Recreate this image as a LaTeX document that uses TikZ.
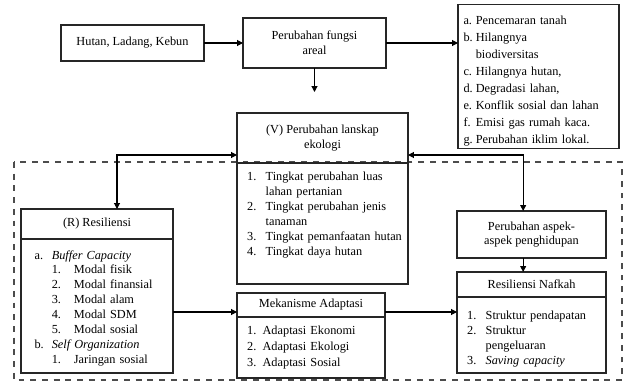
\documentclass[tikz,border=0pt]{standalone}
\usepackage{fontspec}
\setmainfont{Liberation Serif}
\usetikzlibrary{positioning,arrows.meta}
\tikzset{box/.style={draw=black!85, line width=0.9pt, align=center, inner sep=2pt, outer sep=0pt,
   font=\fontsize{10.5}{12.7}\selectfont},
 txt/.style={align=left, inner sep=0pt, anchor=north west, font=\fontsize{10.5}{12.7}\selectfont},
 arr/.style={-{Triangle[length=5pt,width=5pt]}, line width=0.9pt},
 arrboth/.style={{Triangle[length=5pt,width=5pt]}-{Triangle[length=5pt,width=5pt]}, line width=0.9pt},
 frame/.style={draw=black!70, line width=1.1pt, dash pattern=on 5pt off 5pt},
 }
\newcommand{\itm}[3][1.4em]{\par\noindent\hangindent=#1\hangafter=1\makebox[#1][l]{#2}#3}
\newcommand{\sitm}[2]{\par\noindent\hangindent=3.2em\hangafter=1\hspace*{1.4em}\makebox[1.8em][l]{#1}#2}

\begin{document}
\begin{tikzpicture}
        \useasboundingbox (0,0) rectangle (18.72,-11.46);
        % frame round the lower part
        \draw[frame] (0.42,-4.86) rectangle (18.66,-11.4);

        % top row
        \node[box, minimum width=4.29cm, minimum height=1.08cm] (hutan) at (3.975,-1.29) {Hutan, Ladang, Kebun};
        \node[box, minimum width=4.29cm, minimum height=1.5cm] (ubah) at (9.435,-1.29) {Perubahan fungsi\\areal};
        \node[box, minimum width=4.83cm, minimum height=4.23cm, text width=4.5cm, align=left,
              font=\fontsize{10.5}{14.5}\selectfont] (dampak) at (16.155,-2.295) {%
          \itm[1em]{a.}{Pencemaran tanah}
          \itm[1em]{b.}{Hilangnya\newline biodiversitas}
          \itm[1em]{c.}{Hilangnya hutan,}
          \itm[1em]{d.}{Degradasi lahan,}
          \itm[1em]{e.}{Konflik sosial dan lahan}
          \itm[1em]{f.}{Emisi gas rumah kaca.}
          \itm[1em]{g.}{Perubahan iklim lokal.}};
        \coordinate (ubahend) at (9.435,-2.76);

        % (V) box
        \node[box, minimum width=5.13cm, minimum height=1.5cm] (vhead) at (9.675,-4.14) {(V) Perubahan lanskap\\ekologi};
        \node[box, minimum width=5.13cm, minimum height=3.63cm, below=0pt of vhead] (vbody) {};
        \node[txt, text width=4.8cm] (vlist) at ([xshift=0.3cm,yshift=-0.08cm]vbody.north west) {%
          \itm[1.5em]{1.}{Tingkat perubahan luas\newline lahan pertanian}
          \itm[1.5em]{2.}{Tingkat perubahan jenis\newline tanaman}
          \itm[1.5em]{3.}{Tingkat pemanfaatan hutan}
          \itm[1.5em]{4.}{Tingkat daya hutan}};

        % (R) box
        \node[box, minimum width=4.56cm, minimum height=0.9cm] (rhead) at (2.91,-6.72) {(R) Resiliensi};
        \node[box, minimum width=4.56cm, minimum height=4.02cm, below=0pt of rhead] (rbody) {};
        \node[txt, text width=4.2cm] (rlist) at ([xshift=0.4cm,yshift=-0.15cm]rbody.north west) {%
          \itm{a.}{\textit{Buffer Capacity}}
          \sitm{1.}{Modal fisik}
          \sitm{2.}{Modal finansial}
          \sitm{3.}{Modal alam}
          \sitm{4.}{Modal SDM}
          \sitm{5.}{Modal sosial}
          \itm{b.}{\textit{Self Organization}}
          \sitm{1.}{Jaringan sosial}};

        % mekanisme adaptasi
        \node[box, minimum width=4.44cm, minimum height=0.72cm] (mhead) at (9.33,-9.15) {Mekanisme Adaptasi};
        \node[box, minimum width=4.44cm, minimum height=1.83cm, below=0pt of mhead] (mbody) {};
        \node[txt, text width=4.1cm, font=\fontsize{10.5}{13.4}\selectfont] (mlist) at ([xshift=0.3cm,yshift=-0.27cm]mbody.north west) {%
          1. Adaptasi Ekonomi\\
          2. Adaptasi Ekologi\\
          3. Adaptasi Sosial};

        % right column
        \node[box, minimum width=4.47cm, minimum height=1.41cm] (aspek) at (15.945,-7.035) {Perubahan aspek-\\aspek penghidupan};
        \node[box, minimum width=4.47cm, minimum height=0.75cm] (nhead) at (15.945,-8.535) {Resiliensi Nafkah};
        \node[box, minimum width=4.47cm, minimum height=2.28cm, below=0pt of nhead] (nbody) {};
        \node[txt, text width=4.1cm, font=\fontsize{10.5}{13}\selectfont] (nlist) at ([xshift=0.3cm,yshift=-0.2cm]nbody.north west) {%
          \itm[1.5em]{1.}{Struktur pendapatan}
          \itm[1.5em]{2.}{Struktur\newline pengeluaran}
          \itm[1.5em]{3.}{\textit{Saving capacity}}};

        % connectors
        \draw[arr] (hutan.east) -- (ubah.west);
        \draw[arr] (ubah.east) -- (ubah.east -| dampak.west);
        \draw[arr] (ubah.south) -- (ubahend);
        \draw[arrboth] ([xshift=0.6cm]rhead.north) |- ([yshift=-0.51cm]vhead.west);
        \draw[arrboth] ([yshift=-0.51cm]vhead.east) -| ([xshift=-0.25cm]aspek.north);
        \draw[arr] ([yshift=-0.18cm]rbody.east) -- ([yshift=-0.18cm]rbody.east -| mhead.west);
        \draw[arr] ([yshift=-0.18cm]rbody.east -| mhead.east) -- ([yshift=-0.18cm]rbody.east -| nbody.west);
        \draw[arr] ([xshift=-0.25cm]aspek.south) -- ([xshift=-0.25cm]nhead.north);
\end{tikzpicture}
\end{document}
